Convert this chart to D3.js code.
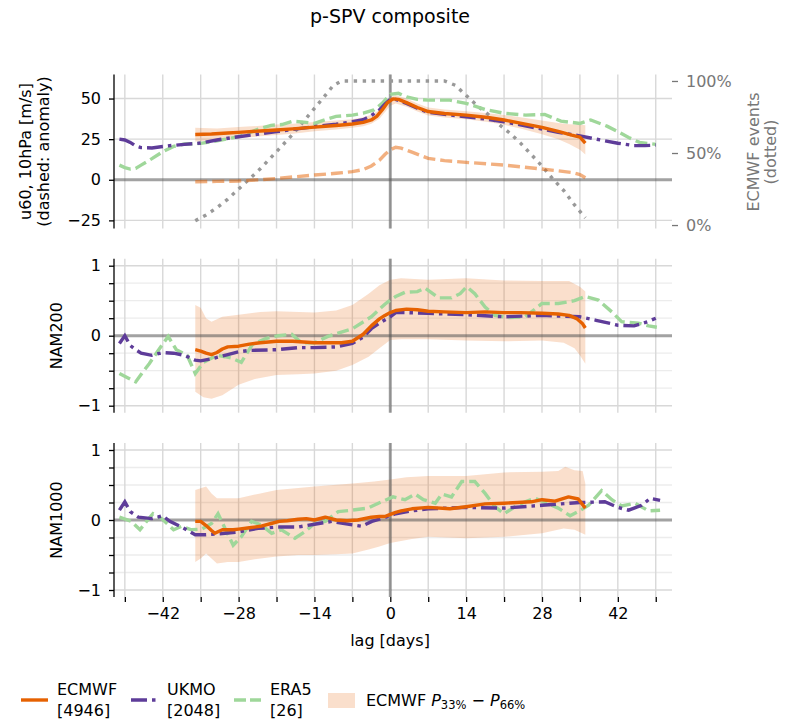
<!DOCTYPE html>
<html>
<head>
<meta charset="utf-8">
<script src="https://cdn.jsdelivr.net/npm/d3@7"></script>
<style>
  body { margin: 0; background: #fff; }
  svg text { font-family: "DejaVu Sans", sans-serif; }
</style>
</head>
<body>
<svg id="chart" width="787" height="721"></svg>
<script>
// ---- data: [lag (days), value] ----
const lagMajor = [-42, -28, -14, 0, 14, 28, 42];
const lagMinor = [-49, -35, -21, -7, 7, 21, 35, 49];

// u60, 10hPa
const ecU60 = [[-36,27.9],[-33,28.2],[-30,28.8],[-28,29.2],[-24,30],[-21,30.6],[-18,31.3],[-14,32.4],[-10,33.4],[-7,34.3],[-5,35.3],[-3.5,36.8],[-2.5,39],[-1.5,43],[-0.5,47.5],[0.5,49.8],[1.5,49.5],[3,47.5],[5,44.5],[7,42],[10,40.8],[14,39.8],[18,38.3],[21,36.8],[24,34.9],[28,32.2],[31,29.8],[33.5,27.5],[35,26.3],[36,22.5]];
const ecU60Anom = [[-36,-1.2],[-32,-1],[-28,-0.8],[-24,0],[-21,0.8],[-18,1.7],[-14,2.9],[-10,4],[-7,5],[-5,6.3],[-3.5,8.5],[-2,12],[-1,15.5],[0,18.5],[1,20],[2,19.5],[4,17],[7,13.2],[10,11.8],[14,10.7],[18,9.8],[21,9],[24,8],[28,6.6],[31,5.5],[33.5,4.5],[35,3.2],[36,1.2]];
const ecU60Lo = [[-36,23.5],[-32,24.5],[-28,25.5],[-24,26.8],[-21,27.5],[-18,28.3],[-14,29.8],[-10,31],[-7,32],[-5,33],[-3.5,34.5],[-2,37.5],[-1,41.5],[0,45.5],[1,47],[3,45],[5,42],[7,39.5],[10,38.3],[14,37.2],[18,35.5],[21,33.8],[24,31.5],[28,28],[31,25],[33,22],[35,18.5],[36,15.5]];
const ecU60Hi = [[-36,32],[-32,31.5],[-28,32.5],[-24,33.2],[-21,34],[-18,34.5],[-14,35.5],[-10,36.5],[-7,37.2],[-5,38.5],[-3.5,40],[-2,43],[-1,47],[0,51],[1,52],[3,50],[5,47],[7,44.5],[10,43.2],[14,42.2],[18,41],[21,39.8],[24,38.5],[28,36.5],[31,35],[33,34.2],[35,33.8],[36,33.5]];
const ukU60 = [[-50,25],[-49,24.5],[-48,23],[-47,20.8],[-46,19.8],[-44,19.6],[-42,20.5],[-40,21.2],[-38,21.8],[-35,22.6],[-32,24.5],[-28,26.5],[-24,28.2],[-21,29.6],[-18,31],[-14,32.7],[-10,34.2],[-7,35.7],[-5,37],[-3.5,39.5],[-2,43],[-1,46.5],[0,49.5],[1,49.5],[3,47],[5,44],[7,41.5],[10,40.3],[14,38.8],[18,37.2],[21,35.7],[24,33.8],[28,31.2],[31,29.2],[35,27],[38,25],[42,22.5],[45,21],[47,21],[49,21.4]];
const eraU60 = [[-50,9],[-49,7.5],[-48,6.6],[-47,7],[-46,9],[-44,13],[-42,17.3],[-40,20.5],[-38,22],[-35,22.4],[-32,24],[-28,26.5],[-26,29],[-24,31.6],[-22,33.5],[-20,34],[-18,36],[-16,35.5],[-14,34.7],[-12,37],[-10,39],[-7,39.8],[-5,41],[-3,43],[-1.5,47],[0,52.6],[1.5,53.2],[3,51],[5,49.5],[7,49],[11,49],[14,47],[17.5,43.3],[21,40.9],[25,39.8],[28.5,40.2],[31.5,36.1],[35,34.7],[37,36.8],[40,33],[42,29.6],[44,26],[46,23],[49,21.8]];
const ecEvents = [[-36,0.03],[-34,0.07],[-32,0.12],[-30,0.18],[-28,0.25],[-26,0.32],[-24,0.39],[-22,0.47],[-20,0.55],[-18,0.63],[-16,0.72],[-14,0.81],[-12,0.9],[-10.5,0.97],[-9,1],[10,1],[12,0.97],[14,0.9],[16,0.83],[18,0.77],[20,0.7],[22,0.64],[24,0.57],[26,0.49],[28,0.41],[30,0.32],[32,0.24],[34,0.14],[36,0.05]];

// NAM200
const ecNam200 = [[-36,-0.2],[-35,-0.22],[-34,-0.25],[-33,-0.27],[-32,-0.24],[-31,-0.19],[-30,-0.16],[-28,-0.15],[-26,-0.12],[-24,-0.1],[-21,-0.08],[-18,-0.08],[-16,-0.09],[-14,-0.1],[-11,-0.1],[-9,-0.1],[-7,-0.08],[-5,0.02],[-3.5,0.14],[-2,0.24],[-1,0.29],[0,0.33],[1,0.36],[3,0.38],[5,0.37],[7,0.35],[10,0.34],[14,0.33],[17.5,0.34],[21,0.33],[24,0.33],[28,0.32],[31,0.31],[33,0.29],[34.5,0.24],[35.5,0.17],[36,0.11]];
const ecNam200Lo = [[-36,-0.8],[-34.5,-0.88],[-33,-0.9],[-31,-0.85],[-30,-0.8],[-28,-0.7],[-25,-0.62],[-21,-0.56],[-17,-0.55],[-14,-0.54],[-10,-0.5],[-7,-0.42],[-4,-0.3],[-2,-0.18],[0,-0.06],[2,-0.05],[7,-0.05],[14,-0.07],[21,-0.08],[28,-0.07],[32,-0.1],[34,-0.18],[35,-0.28],[36,-0.4]];
const ecNam200Hi = [[-36,0.44],[-35,0.4],[-34,0.25],[-33,0.2],[-31,0.27],[-28,0.3],[-24,0.34],[-21,0.35],[-14,0.33],[-10,0.36],[-7,0.44],[-4,0.6],[-2,0.72],[0,0.8],[2,0.82],[7,0.8],[14,0.82],[21,0.79],[28,0.78],[33,0.78],[35,0.7],[36,0.63]];
const ukNam200 = [[-50,-0.11],[-49,0],[-48,-0.14],[-47,-0.2],[-46,-0.25],[-44,-0.28],[-42,-0.24],[-40,-0.25],[-38,-0.28],[-36,-0.35],[-35,-0.36],[-33,-0.33],[-30,-0.27],[-28,-0.23],[-26,-0.21],[-21,-0.2],[-17,-0.17],[-14,-0.17],[-10,-0.16],[-7,-0.11],[-5,-0.02],[-3.5,0.1],[-2,0.18],[0,0.27],[1,0.33],[3,0.33],[7,0.32],[14,0.3],[21,0.27],[28,0.29],[35,0.27],[38,0.22],[42,0.15],[45,0.14],[47.5,0.2],[49,0.25]];
const eraNam200 = [[-50,-0.54],[-48.5,-0.6],[-47,-0.66],[-45.5,-0.5],[-44.5,-0.4],[-43,-0.23],[-41,-0.01],[-39.5,-0.2],[-37.5,-0.28],[-36,-0.54],[-34.5,-0.38],[-32,-0.28],[-30.5,-0.3],[-29.3,-0.32],[-27.5,-0.38],[-25.5,-0.13],[-23,-0.04],[-20.7,0],[-18.2,0.02],[-16.4,-0.1],[-14,-0.1],[-11.5,-0.01],[-7,0.1],[-3.5,0.27],[-1,0.45],[0,0.51],[1,0.56],[2.7,0.62],[5,0.63],[6.4,0.68],[8.9,0.54],[11.3,0.54],[12.9,0.6],[14.1,0.7],[15.6,0.6],[17.5,0.41],[19.3,0.29],[21.8,0.26],[24.9,0.27],[28,0.46],[31,0.46],[34,0.5],[36,0.56],[38.4,0.51],[40.9,0.34],[42.7,0.2],[45.8,0.18],[47.7,0.14],[49.2,0.12]];

// NAM1000
const ecNam1000 = [[-36,-0.02],[-35,-0.02],[-34,-0.08],[-33,-0.15],[-32.4,-0.19],[-31,-0.14],[-29,-0.14],[-28,-0.13],[-26,-0.11],[-24,-0.09],[-22,-0.05],[-20.5,-0.02],[-19,-0.01],[-17,0.01],[-15.5,0.02],[-14,0],[-12,0.04],[-10,0],[-8,-0.01],[-6,0],[-3.5,0.04],[-2,0.05],[-1,0.05],[0,0.08],[1,0.11],[2,0.13],[4,0.16],[7,0.18],[11,0.16],[14,0.19],[17.5,0.23],[21,0.24],[23.5,0.25],[26,0.26],[28,0.29],[30.4,0.27],[32.9,0.33],[34.7,0.3],[36,0.17]];
const ecNam1000Lo = [[-36,-0.6],[-35,-0.55],[-34,-0.48],[-33,-0.55],[-32,-0.62],[-30,-0.6],[-28,-0.6],[-25,-0.56],[-21,-0.52],[-17,-0.5],[-14,-0.5],[-10,-0.49],[-7,-0.48],[-4,-0.42],[-2,-0.38],[0,-0.33],[2,-0.3],[4,-0.27],[7,-0.24],[14,-0.26],[21,-0.24],[28,-0.19],[32,-0.12],[34,-0.14],[36,-0.21]];
const ecNam1000Hi = [[-36,0.43],[-34,0.48],[-33,0.38],[-32,0.31],[-28,0.31],[-24,0.38],[-21,0.43],[-14,0.48],[-7,0.52],[-3,0.55],[0,0.58],[3,0.61],[7,0.63],[14,0.63],[21,0.68],[28,0.69],[31,0.7],[32.3,0.76],[34,0.71],[35.5,0.7],[36,0.52]];
const ukNam1000 = [[-50,0.14],[-49,0.26],[-48,0.12],[-46.5,0.04],[-44,0.02],[-42,0.06],[-40.7,-0.02],[-38.5,-0.1],[-36,-0.21],[-34,-0.21],[-32,-0.2],[-28,-0.17],[-24.4,-0.12],[-20.7,-0.1],[-17,-0.1],[-14,-0.06],[-10.8,-0.02],[-7,-0.07],[-5.3,-0.09],[-3.4,-0.02],[0,0.06],[1,0.09],[4,0.13],[7,0.16],[14,0.18],[21,0.17],[28,0.21],[35,0.25],[39.6,0.26],[42,0.18],[44,0.14],[46.4,0.21],[48,0.31],[49.8,0.28]];
const eraNam1000 = [[-50,0.04],[-47.8,-0.02],[-46.2,-0.14],[-45,-0.02],[-43.8,0.09],[-42.2,0.02],[-40,-0.14],[-38.5,-0.09],[-36.7,-0.14],[-34.8,-0.13],[-33,-0.05],[-31.8,0.09],[-30.5,-0.12],[-29,-0.36],[-27.5,-0.24],[-25.6,-0.02],[-23.8,-0.07],[-21.9,-0.19],[-20.1,-0.14],[-17.6,-0.26],[-15.8,-0.17],[-14,-0.05],[-12,-0.02],[-9.6,0.12],[-7.1,0.14],[-4.1,0.17],[-2.2,0.24],[-1,0.28],[0.5,0.33],[2.7,0.29],[4.6,0.37],[6.1,0.29],[8.3,0.24],[9.5,0.37],[11.3,0.33],[13.2,0.55],[15.6,0.55],[17.5,0.38],[19.3,0.19],[21,0.09],[23,0.19],[24.9,0.26],[26.7,0.31],[28.6,0.25],[31,0.17],[33.2,0.06],[34.7,0.12],[36.6,0.21],[39,0.42],[40.9,0.29],[42.7,0.2],[45.2,0.24],[47.7,0.13],[49.8,0.14]];

const legendNames = ['ECMWF', 'UKMO', 'ERA5'];
const legendCounts = ['[4946]', '[2048]', '[26]'];

// ---- styles ----
const cEC = '#e66101', cUK = '#5e3c99', cERA = '#9fd79a', cGrey = '#999999';
const lw = 3.4;

const svg = d3.select('#chart');

let x = d3.scaleLinear().domain([-51, 52]).range([114, 672]);
const panelH = 154;

let panels = [
    {top: 74.5, dom: [-30, 64.8], ticks: [-25, 0, 25, 50], minor: [], label: ['u60, 10hPa [m/s]', '(dashed: anomaly)'],
        lo: ecU60Lo, hi: ecU60Hi, ec: ecU60, uk: ukU60, era: eraU60, anom: ecU60Anom},
    {top: 258.7, dom: [-1.1, 1.1], ticks: [-1, 0, 1], minor: [-0.75, -0.5, -0.25, 0.25, 0.5, 0.75], label: ['NAM200'],
        lo: ecNam200Lo, hi: ecNam200Hi, ec: ecNam200, uk: ukNam200, era: eraNam200},
    {top: 443, dom: [-1.1, 1.1], ticks: [-1, 0, 1], minor: [-0.75, -0.5, -0.25, 0.25, 0.5, 0.75], label: ['NAM1000'],
        lo: ecNam1000Lo, hi: ecNam1000Hi, ec: ecNam1000, uk: ukNam1000, era: eraNam1000}
];

function fmt(v) {
    return (v < 0 ? '\u2212' : '') + Math.abs(v);
}

panels.forEach((p, pi) => {
    let y = d3.scaleLinear().domain(p.dom).range([p.top + panelH, p.top]);
    let g = svg.append('g');

    // grid
    g.selectAll('.hminor').data(p.minor).enter().append('line')
        .attr('x1', x.range()[0]).attr('x2', x.range()[1])
        .attr('y1', d => y(d)).attr('y2', d => y(d))
        .attr('stroke', '#ececec').attr('stroke-width', 1.3);
    g.selectAll('.hmajor').data(p.ticks.filter(d => d !== 0)).enter().append('line')
        .attr('x1', x.range()[0]).attr('x2', x.range()[1])
        .attr('y1', d => y(d)).attr('y2', d => y(d))
        .attr('stroke', '#d8d8d8').attr('stroke-width', 1.4);
    g.selectAll('.vgrid').data(lagMajor.concat(lagMinor)).enter().append('line')
        .attr('x1', d => x(d)).attr('x2', d => x(d))
        .attr('y1', p.top).attr('y2', p.top + panelH)
        .attr('stroke', '#d8d8d8').attr('stroke-width', 1.4);

    let line = d3.line().x(d => x(d[0])).y(d => y(d[1]));

    // percentile band
    g.append('path')
        .attr('d', line(p.hi.concat(p.lo.slice().reverse())) + 'Z')
        .attr('fill', cEC).attr('fill-opacity', 0.2).attr('stroke', 'none');

    // zero lines
    g.append('line').attr('x1', x.range()[0]).attr('x2', x.range()[1])
        .attr('y1', y(0)).attr('y2', y(0))
        .attr('stroke', '#555').attr('stroke-opacity', 0.55).attr('stroke-width', 3);
    g.append('line').attr('x1', x(0)).attr('x2', x(0))
        .attr('y1', p.top).attr('y2', p.top + panelH)
        .attr('stroke', '#555').attr('stroke-opacity', 0.55).attr('stroke-width', 3);

    if (pi === 0) {
        let yr = d3.scaleLinear().domain([-0.024, 1.045]).range([p.top + panelH, p.top]);
        let lineR = d3.line().x(d => x(d[0])).y(d => yr(d[1]));
        g.append('path').attr('d', lineR(ecEvents))
            .attr('fill', 'none').attr('stroke', cGrey).attr('stroke-width', lw)
            .attr('stroke-dasharray', '3.4,5.6');
        g.append('path').attr('d', line(p.anom))
            .attr('fill', 'none').attr('stroke', cEC).attr('stroke-opacity', 0.5)
            .attr('stroke-width', lw).attr('stroke-dasharray', '12,5');

        let ra = g.append('g').attr('transform', 'translate(' + x.range()[1] + ',0)')
            .call(d3.axisRight(yr).tickValues([0, 0.5, 1]).tickSize(6).tickPadding(8)
                .tickFormat(d => Math.round(d * 100) + '%'));
        ra.select('.domain').remove();
        ra.selectAll('line').attr('stroke', '#777').attr('stroke-width', 1.3);
        ra.selectAll('text').attr('fill', '#777').style('font-size', '16px');

        let rl = svg.append('text').attr('transform', 'translate(762,152) rotate(-90)')
            .attr('text-anchor', 'middle').attr('fill', '#777').style('font-size', '16px');
        rl.append('tspan').attr('x', 0).attr('dy', '-0.2em').text('ECMWF events');
        rl.append('tspan').attr('x', 0).attr('dy', '1.1em').text('(dotted)');
    }

    g.append('path').attr('d', line(p.era))
        .attr('fill', 'none').attr('stroke', cERA).attr('stroke-width', lw)
        .attr('stroke-dasharray', '12,5');
    g.append('path').attr('d', line(p.uk))
        .attr('fill', 'none').attr('stroke', cUK).attr('stroke-width', lw)
        .attr('stroke-dasharray', '16,5,3.5,5');
    g.append('path').attr('d', line(p.ec))
        .attr('fill', 'none').attr('stroke', cEC).attr('stroke-width', lw)
        .attr('stroke-linejoin', 'round');

    // left axis
    let la = g.append('g').attr('transform', 'translate(' + x.range()[0] + ',0)')
        .call(d3.axisLeft(y).tickValues(p.ticks.concat(p.minor)).tickSize(5).tickPadding(8)
            .tickFormat(d => p.ticks.includes(d) ? fmt(d) : ''));
    la.select('.domain').attr('d', 'M0,' + p.top + 'V' + (p.top + panelH))
        .attr('stroke', '#000').attr('stroke-width', 1.3);
    la.selectAll('line').attr('stroke', '#000').attr('stroke-width', 1.3);
    la.selectAll('text').attr('fill', '#000').style('font-size', '16px');

    // y label
    let cy = p.top + panelH / 2;
    if (p.label.length === 2) {
        let yl = svg.append('text').attr('transform', 'translate(25,' + cy + ') rotate(-90)')
            .attr('text-anchor', 'middle').style('font-size', '16px');
        yl.append('tspan').attr('x', 0).attr('dy', '0.35em').text(p.label[0]);
        yl.append('tspan').attr('x', 0).attr('dy', '1.15em').text(p.label[1]);
    } else {
        svg.append('text').attr('transform', 'translate(56,' + cy + ') rotate(-90)')
            .attr('text-anchor', 'middle').attr('dy', '0.35em').style('font-size', '16px')
            .text(p.label[0]);
    }

    if (pi === 2) {
        let xa = g.append('g').attr('transform', 'translate(0,' + (p.top + panelH) + ')')
            .call(d3.axisBottom(x).tickValues(lagMajor.concat(lagMinor)).tickSize(5).tickPadding(6)
                .tickFormat(d => lagMajor.includes(d) ? fmt(d) : ''));
        xa.select('.domain').remove();
        xa.selectAll('line').attr('stroke', '#000').attr('stroke-width', 1.3);
        xa.selectAll('text').attr('fill', '#000').style('font-size', '16px');
    }
});

// title and x label
svg.append('text').attr('x', 390).attr('y', 23).attr('text-anchor', 'middle')
    .style('font-size', '19px').text('p-SPV composite');
svg.append('text').attr('x', 390).attr('y', 646).attr('text-anchor', 'middle')
    .style('font-size', '16px').text('lag [days]');

// legend
const legX = [21, 131, 234];
const legCol = [cEC, cUK, cERA];
const legDash = [null, '16,5,3.5,5', '12,4'];
legendNames.forEach((n, i) => {
    svg.append('line').attr('x1', legX[i]).attr('x2', legX[i] + 27)
        .attr('y1', 700).attr('y2', 700)
        .attr('stroke', legCol[i]).attr('stroke-width', lw)
        .attr('stroke-dasharray', legDash[i]);
    let t = svg.append('text').attr('x', legX[i] + 36).attr('y', 695).style('font-size', '16px');
    t.append('tspan').attr('x', legX[i] + 36).text(n);
    t.append('tspan').attr('x', legX[i] + 36).attr('dy', 21).text(legendCounts[i]);
});
svg.append('rect').attr('x', 328).attr('y', 693).attr('width', 27).attr('height', 15)
    .attr('fill', cEC).attr('fill-opacity', 0.2);
let bt = svg.append('text').attr('x', 366).attr('y', 706).style('font-size', '16px');
bt.append('tspan').text('ECMWF ');
bt.append('tspan').style('font-style', 'italic').text('P');
bt.append('tspan').attr('dy', 3).style('font-size', '11.5px').text('33%');
bt.append('tspan').attr('dy', -3).text(' \u2212 ');
bt.append('tspan').style('font-style', 'italic').text('P');
bt.append('tspan').attr('dy', 3).style('font-size', '11.5px').text('66%');
</script>
</body>
</html>
